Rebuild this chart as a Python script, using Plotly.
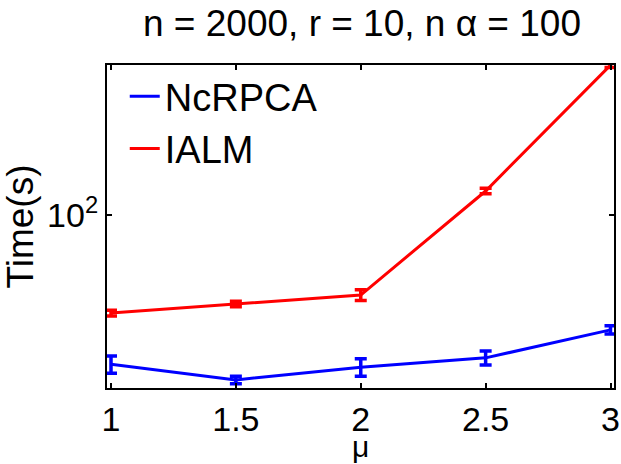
import plotly.graph_objects as go

mu = [1, 1.5, 2, 2.5, 3]
ncrpca_time = [31.8, 28.2, 31.1, 33.4, 41.4]
ncrpca_err = [2.1, 0.8, 2.1, 1.8, 1.3]
ialm_time = [47.1, 50.5, 54.1, 120.2, 316.0]
ialm_err = [1.0, 1.1, 2.2, 2.5, 6.0]
x_ticks = [1, 1.5, 2, 2.5, 3]
x_ticktext = ["1", "1.5", "2", "2.5", "3"]
y_ticks = [100]
y_ticktext = ["10<sup>2</sup>"]

FONT = "Liberation Sans, Arial, Helvetica, sans-serif"
BLUE = "rgb(0,0,255)"
RED = "rgb(255,0,0)"

fig = go.Figure()

for name, ys, err, col in [("NcRPCA", ncrpca_time, ncrpca_err, BLUE),
                           ("IALM", ialm_time, ialm_err, RED)]:
    fig.add_trace(go.Scatter(
        x=mu, y=ys, mode="lines", name=name, showlegend=False,
        line=dict(color=col, width=3),
        error_y=dict(type="data", array=err, arrayminus=err, visible=True,
                     color=col, thickness=3.5, width=6),
        cliponaxis=True,
    ))
    # legend entry (line only)
    fig.add_trace(go.Scatter(
        x=[None], y=[None], mode="lines", name=name,
        line=dict(color=col, width=3), showlegend=True,
    ))

fig.update_layout(
    width=621, height=464,
    margin=dict(l=107, r=7, t=65, b=76, autoexpand=False),
    paper_bgcolor="white", plot_bgcolor="white",
    font=dict(family=FONT, size=34, color="black"),
    title=dict(text="n = 2000, r = 10, n α = 100", x=362 / 621, xanchor="center",
               y=1 - 23 / 464, yanchor="middle", yref="container",
               font=dict(size=37, color="black", family=FONT)),
    legend=dict(x=0.035, y=1.0, xanchor="left", yanchor="top",
                bgcolor="rgba(0,0,0,0)", borderwidth=0,
                font=dict(size=38, family=FONT), tracegroupgap=0,
                itemwidth=30),
    showlegend=True,
    annotations=[dict(text="μ", xref="paper", yref="paper", x=0.5,
                      y=-(447 - 388) / 323, xanchor="center", yanchor="middle",
                      showarrow=False, font=dict(size=30, family=FONT, color="black"))],
)

fig.update_xaxes(
    range=[0.984, 3.014], tickvals=x_ticks, ticktext=x_ticktext,
    ticks="inside", ticklen=5, tickwidth=1.5, tickcolor="black",
    showline=True, linecolor="black", linewidth=2, mirror="ticks",
    showgrid=False, zeroline=False, automargin=False,
    tickfont=dict(size=34, family=FONT),
)
fig.update_yaxes(
    type="log", range=[1.4233, 2.5], tickvals=y_ticks, ticktext=y_ticktext,
    ticks="inside", ticklen=5, tickwidth=1.5, tickcolor="black",
    showline=True, linecolor="black", linewidth=2, mirror="ticks",
    showgrid=False, zeroline=False, automargin=False,
    tickfont=dict(size=34, family=FONT),
    title=dict(text="Time(s)", font=dict(size=37, family=FONT)),
)

fig.write_html("out.html")
